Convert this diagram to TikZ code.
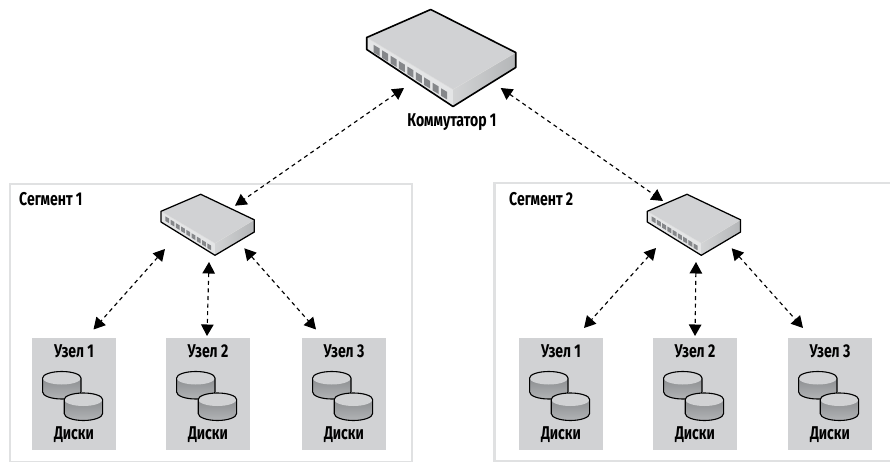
\documentclass[tikz,border=0pt]{standalone}
\usepackage{fontspec}
\setmainfont{Fira Sans}[FakeStretch=0.76]
\usetikzlibrary{arrows.meta,shadings}
\definecolor{boxline}{HTML}{E0E1E2}
\definecolor{nodefill}{HTML}{D1D2D4}
\definecolor{topface}{HTML}{D1D2D4}
\definecolor{frontface}{HTML}{E4E5E6}
\definecolor{sideface}{HTML}{B4B6B8}
\definecolor{portc}{HTML}{85878A}
\definecolor{diskdark}{HTML}{808285}
\definecolor{disklight}{HTML}{B2B4B6}
\tikzset{
  x=1pt,y=-1pt,
  segbox/.style={draw=boxline,line width=2.4pt,fill=white},
  nodebox/.style={fill=nodefill,minimum width=84pt,minimum height=112.5pt,inner sep=0pt,anchor=north west},
  lab/.style={font=\fontsize{18.5}{20}\selectfont\bfseries,text=black,inner sep=0pt},
  link/.style={line width=1.15pt,dash pattern=on 4pt off 3.6pt,{Triangle[length=11.5pt,width=12.5pt]}-{Triangle[length=11.5pt,width=12.5pt]}},
  edgeline/.style={line width=1.6pt,line join=round,draw=black},
}
\newcommand{\switchbig}[2]{%
\begin{scope}[shift={(#1,#2)}]
  \fill[topface] (64,-0.5) -- (0,27.5) -- (86.3,79.5) -- (149,42.5) -- cycle;
  \fill[frontface] (0,27.5) -- (0,39.5) -- (86.3,96.5) -- (86.3,79.5) -- cycle;
  \shade[left color=sideface!60!white,right color=sideface] (86.3,79.5) -- (86.3,96.5) -- (149,57.5) -- (149,42.5) -- cycle;
  \draw[white!70!gray,line width=.5pt] (0,27.5) -- (86.3,79.5) -- (149,42.5);
  \foreach \i in {0,...,8}{
    \pgfmathsetmacro{\px}{10+\i*8.42}
    \pgfmathsetmacro{\py}{40.5+\i*5.42}
    \fill[portc] (\px-3,\py-5.6) -- (\px+3,\py-2) -- (\px+3,\py+5.6) -- (\px-3,\py+2) -- cycle;
  }
  \draw[edgeline] (0,27.5) -- (64,-0.5) -- (149,42.5) -- (149,57.5) -- (86.3,96.5) -- (0,39.5) -- cycle;
\end{scope}}
\newcommand{\switchsmall}[2]{%
\begin{scope}[shift={(#1,#2)}]
  \fill[topface] (39.7,-17) -- (0,0) -- (54,32) -- (93.3,8.5) -- cycle;
  \fill[frontface] (0,0) -- (0,10.7) -- (54,44) -- (54,32) -- cycle;
  \shade[left color=sideface!60!white,right color=sideface] (54,32) -- (54,44) -- (93.3,20.7) -- (93.3,8.5) -- cycle;
  \draw[white!70!gray,line width=.4pt] (0,0) -- (54,32) -- (93.3,8.5);
  \foreach \i in {0,...,8}{
    \pgfmathsetmacro{\px}{6.3+\i*5.25}
    \pgfmathsetmacro{\py}{8.5+\i*3.38}
    \fill[portc] (\px-1.9,\py-3.4) -- (\px+1.9,\py-1.2) -- (\px+1.9,\py+3.4) -- (\px-1.9,\py+1.2) -- cycle;
  }
  \draw[edgeline,line width=1.25pt] (0,0) -- (39.7,-17) -- (93.3,8.5) -- (93.3,20.7) -- (54,44) -- (0,10.7) -- cycle;
\end{scope}}
\newcommand{\onedisk}[2]{%
  \shade[top color=diskdark,bottom color=disklight]
    (#1,#2) -- (#1,#2+14) arc[start angle=180,end angle=360,x radius=19.2pt,y radius=7pt] -- (#1+38.4,#2) arc[start angle=0,end angle=180,x radius=19.2pt,y radius=6.5pt] -- cycle;
  \fill[topface] (#1+19.2,#2) ellipse[x radius=19.2pt,y radius=6.5pt];
  \draw[black,line width=1.1pt,line join=round] (#1,#2) -- (#1,#2+14) arc[start angle=180,end angle=360,x radius=19.2pt,y radius=7pt] -- (#1+38.4,#2) arc[start angle=0,end angle=180,x radius=19.2pt,y radius=6.5pt] -- cycle;
}
\newcommand{\hostcell}[3]{%
  \node[nodebox] (#1) at (#2,337.7) {};
  \node[lab] (#1t) at (#2+42,351.5) {Узел #3};
  \onedisk{#2+10.6}{378}
  \onedisk{#2+32.2}{399.5}
  \node[lab] (#1d) at (#2+42,434.5) {Диски};
}
\begin{document}
\begin{tikzpicture}
\useasboundingbox (0,0) rectangle (890,462);
\fill[white] (0,0) rectangle (890,462);
\node[segbox,minimum width=402pt,minimum height=277.7pt,inner sep=0pt,anchor=north west] (seg1) at (8.5,183) {};
\draw[segbox] (891.5,183) -- (494.3,183) -- (494.3,460.7) -- (891.5,460.7);
\coordinate (seg2) at (494.3,183);
\node[lab,anchor=west] (seg1t) at (19,199) {Сегмент 1};
\node[lab,anchor=west] (seg2t) at (509,199) {Сегмент 2};
\switchbig{366.7}{10}
\switchsmall{161}{211.3}
\switchsmall{647.3}{211.3}
\node[lab] (core) at (452,122.5) {Коммутатор 1};
\hostcell{a1}{32}{1}
\hostcell{a2}{166}{2}
\hostcell{a3}{302}{3}
\hostcell{b1}{519}{1}
\hostcell{b2}{653}{2}
\hostcell{b3}{788}{3}
\coordinate (cl) at (404,88);
\coordinate (cr) at (500.7,88);
\coordinate (sa) at (235,205.7);
\coordinate (sb) at (663,201);
\coordinate (aL) at (165,249);
\coordinate (aM) at (209,262);
\coordinate (aR) at (244.3,248.3);
\coordinate (bL) at (656,248);
\coordinate (bM) at (696,262);
\coordinate (bR) at (731.7,248.3);
\coordinate (a1p) at (93.5,329.5);
\coordinate (a2p) at (207,336);
\coordinate (a3p) at (316,329.5);
\coordinate (b1p) at (584,328);
\coordinate (b2p) at (695,336);
\coordinate (b3p) at (803,328);
\draw[link] (cl) -- (sa);
\draw[link] (cr) -- (sb);
\draw[link] (aL) -- (a1p);
\draw[link] (aM) -- (a2p);
\draw[link] (aR) -- (a3p);
\draw[link] (bL) -- (b1p);
\draw[link] (bM) -- (b2p);
\draw[link] (bR) -- (b3p);
\end{tikzpicture}
\end{document}
